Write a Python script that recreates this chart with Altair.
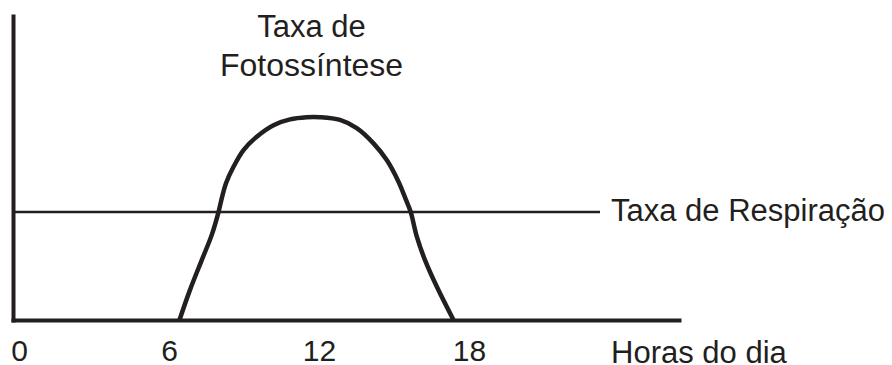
import altair as alt
import pandas as pd

# Photosynthesis curve (hours of day, rate)
hours = [6.42, 6.84, 7.31, 7.71, 7.98, 8.11, 8.28, 8.58, 8.98, 9.51, 10.18,
         10.84, 11.51, 12.04, 12.84, 13.51, 14.18, 14.71, 15.18, 15.48,
         15.67, 15.91, 16.24, 16.71, 17.38]
photo = [0.0, 0.99, 1.97, 2.80, 3.55, 4.00, 4.50, 5.04, 5.59, 6.03, 6.41,
         6.60, 6.67, 6.67, 6.58, 6.31, 5.81, 5.26, 4.55, 3.95,
         3.55, 2.75, 1.97, 1.10, 0.0]

# Respiration rate (constant)
resp_hours = [-0.24, 23.24]
resp_rate = [3.55, 3.55]

tick_hours = [0, 6, 12, 18]

# Annotations
ann_text = ["Taxa de", "Fotossíntese", "Taxa de Respiração", "Horas do dia"]
ann_x = [11.7, 11.7, 23.68, 23.68]
ann_y = [9.31, 8.03, 3.55, -1.41]
ann_size = [31, 32, 31, 31]
ann_align = ["center", "center", "left", "left"]
ann_base = ["alphabetic", "alphabetic", "middle", "alphabetic"]

INK = "#231f20"
FONT = "Liberation Sans"

curve_df = pd.DataFrame({"h": hours, "v": photo})
resp_df = pd.DataFrame({"h": resp_hours, "v": resp_rate})
ann_df = pd.DataFrame({"t": ann_text, "h": ann_x, "v": ann_y})

xscale = alt.Scale(domain=[-0.24, 26.4], nice=False, zero=False)
yscale = alt.Scale(domain=[0, 10], nice=False)

xaxis = alt.Axis(values=tick_hours, title=None, grid=False, ticks=False,
                 domainColor=INK, domainWidth=4, domainCap="square",
                 labelFont=FONT, labelFontSize=30, labelColor=INK,
                 labelPadding=16, labelAngle=0, labelFlush=False)
yaxis = alt.Axis(title=None, grid=False, ticks=False, labels=False,
                 domainColor=INK, domainWidth=4, domainCap="square")

curve = alt.Chart(curve_df).mark_line(
    color=INK, strokeWidth=4.5, interpolate="catmull-rom"
).encode(
    x=alt.X("h:Q", scale=xscale, axis=xaxis),
    y=alt.Y("v:Q", scale=yscale, axis=yaxis),
)

resp = alt.Chart(resp_df).mark_line(color=INK, strokeWidth=2.5).encode(
    x=alt.X("h:Q", scale=xscale),
    y=alt.Y("v:Q", scale=yscale),
)

layers = [curve, resp]
for i in range(len(ann_text)):
    sub = ann_df.iloc[[i]]
    layers.append(
        alt.Chart(sub).mark_text(
            font=FONT, fontSize=ann_size[i], color=INK,
            align=ann_align[i], baseline=ann_base[i]
        ).encode(
            x=alt.X("h:Q", scale=xscale),
            y=alt.Y("v:Q", scale=yscale),
            text="t:N",
        )
    )

chart = alt.layer(*layers).properties(
    width=666, height=304,
    background="white",
    autosize=alt.AutoSizeParams(type="none"),
    padding={"left": 5, "top": 8, "right": 205, "bottom": 45},
).configure_view(strokeWidth=0, stroke="transparent")

chart.save("out.html", embed_options={"renderer": "svg", "actions": False})
